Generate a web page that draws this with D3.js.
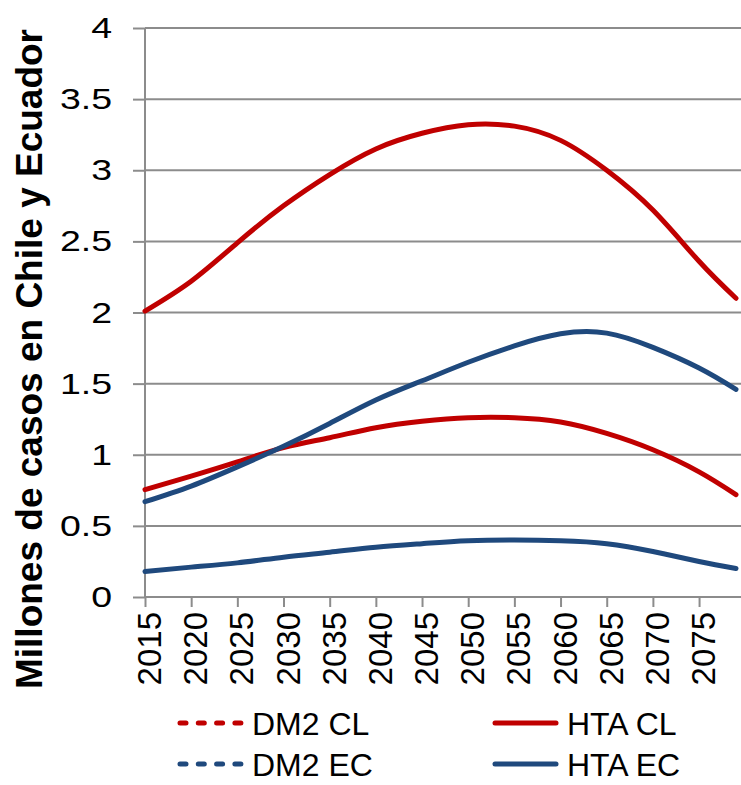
<!DOCTYPE html>
<meta charset="utf-8">
<html>
<head>
<style>
body { margin: 0; background: #fff; }
svg { display: block; font-family: "Liberation Sans", Arial, sans-serif; }
.grid line { stroke: #8c8c8c; stroke-width: 2px; }
.axis path, .axis line { stroke: #8c8c8c; stroke-width: 2px; }
.axis text { fill: #000; }
.axis--y text { font-size: 30px; }
.axis--x text { font-size: 33px; }
.line { fill: none; stroke-width: 5px; stroke-linecap: round; stroke-linejoin: round; }
.legend text { font-size: 32px; fill: #000; }
</style>
</head>
<body>
<svg width="741" height="785"></svg>
<script src="https://d3js.org/d3.v7.min.js"></script>
<script>

// data (millions of cases)
var years = [2015, 2020, 2025, 2030, 2035, 2040, 2045, 2050, 2055, 2060, 2065, 2070, 2075, 2079];
var dm2CL = [0.755, 0.85, 0.95, 1.05, 1.12, 1.19, 1.235, 1.26, 1.26, 1.23, 1.15, 1.035, 0.88, 0.72];
var htaCL = [2.01, 2.22, 2.49, 2.75, 2.97, 3.15, 3.26, 3.32, 3.31, 3.21, 3.0, 2.72, 2.36, 2.10];
var dm2EC = [0.18, 0.21, 0.24, 0.28, 0.315, 0.35, 0.375, 0.395, 0.40, 0.395, 0.375, 0.32, 0.25, 0.20];
var htaEC = [0.67, 0.78, 0.915, 1.06, 1.22, 1.385, 1.52, 1.65, 1.765, 1.85, 1.855, 1.755, 1.61, 1.46];

var seriesNames = ["DM2 CL", "HTA CL", "DM2 EC", "HTA EC"];
var seriesColors = ["#c00000", "#c00000", "#1f497d", "#1f497d"];
var seriesDashed = [true, false, true, false];

var xTicks = [2015, 2020, 2025, 2030, 2035, 2040, 2045, 2050, 2055, 2060, 2065, 2070, 2075];
var yTicks = [0, 0.5, 1, 1.5, 2, 2.5, 3, 3.5, 4];
var yTitle = "Millones de casos en Chile y Ecuador";

var svg = d3.select("svg"),
    margin = {top: 28, right: 0, bottom: 188, left: 145},
    width = +svg.attr("width") - margin.left - margin.right,
    height = +svg.attr("height") - margin.top - margin.bottom;

var x = d3.scaleLinear().domain([2015, 2079]).range([0, width - 5]),
    y = d3.scaleLinear().domain([0, 4]).range([height, 0]);

var g = svg.append("g")
    .attr("transform", "translate(" + margin.left + "," + margin.top + ")");

// horizontal gridlines
g.append("g")
    .attr("class", "grid")
    .selectAll("line")
    .data(yTicks.filter(function (d) { return d > 0; }))
    .enter().append("line")
    .attr("x1", 0)
    .attr("x2", width)
    .attr("y1", function (d) { return y(d); })
    .attr("y2", function (d) { return y(d); });

var yAxis = d3.axisLeft(y)
    .tickValues(yTicks)
    .tickSize(12)
    .tickPadding(20)
    .tickFormat(d3.format(""));

var gy = g.append("g")
    .attr("class", "axis axis--y")
    .call(yAxis);
gy.select(".domain").attr("d", "M0," + height + "V0");
// the reference labels are drawn a bit wide
gy.selectAll("text")
    .attr("x", -33 / 1.25)
    .attr("transform", "scale(1.25,1)");

var xAxis = d3.axisBottom(x)
    .tickValues(xTicks)
    .tickSize(10)
    .tickFormat(d3.format("d"));

var gx = g.append("g")
    .attr("class", "axis axis--x")
    .attr("transform", "translate(0," + height + ")")
    .call(xAxis);
gx.select(".domain").attr("d", "M0,0H" + width);
gx.selectAll("text")
    .attr("transform", "rotate(-90)")
    .attr("x", -15)
    .attr("y", 4)
    .attr("dy", "0.35em")
    .style("text-anchor", "end");

// y title
svg.append("text")
    .attr("transform", "translate(42,359) rotate(-90)")
    .style("text-anchor", "middle")
    .style("font-weight", "bold")
    .style("font-size", "37px")
    .text(yTitle);

var line = d3.line()
    .x(function (d, i) { return x(years[i]); })
    .y(function (d) { return y(d); })
    .curve(d3.curveNatural);

var series = [dm2CL, htaCL, dm2EC, htaEC];

g.selectAll(".line")
    .data(series)
    .enter().append("path")
    .attr("class", "line")
    .style("stroke", function (d, i) { return seriesColors[i]; })
    .attr("d", line);

// legend, two columns
var legend = svg.append("g").attr("class", "legend");
var item = legend.selectAll("g")
    .data(seriesNames)
    .enter().append("g")
    .attr("transform", function (d, i) {
        return "translate(" + (180 + (i % 2) * 315) + "," + (723 + Math.floor(i / 2) * 41) + ")";
    });

item.append("line")
    .attr("x1", 0).attr("x2", 61)
    .style("stroke", function (d, i) { return seriesColors[i]; })
    .style("stroke-width", 5)
    .style("stroke-linecap", "round")
    .style("stroke-dasharray", function (d, i) { return seriesDashed[i] ? "6,12.3" : null; });

item.append("text")
    .attr("x", 72)
    .attr("dy", "0.36em")
    .text(function (d) { return d; });

</script>
</body>
</html>
